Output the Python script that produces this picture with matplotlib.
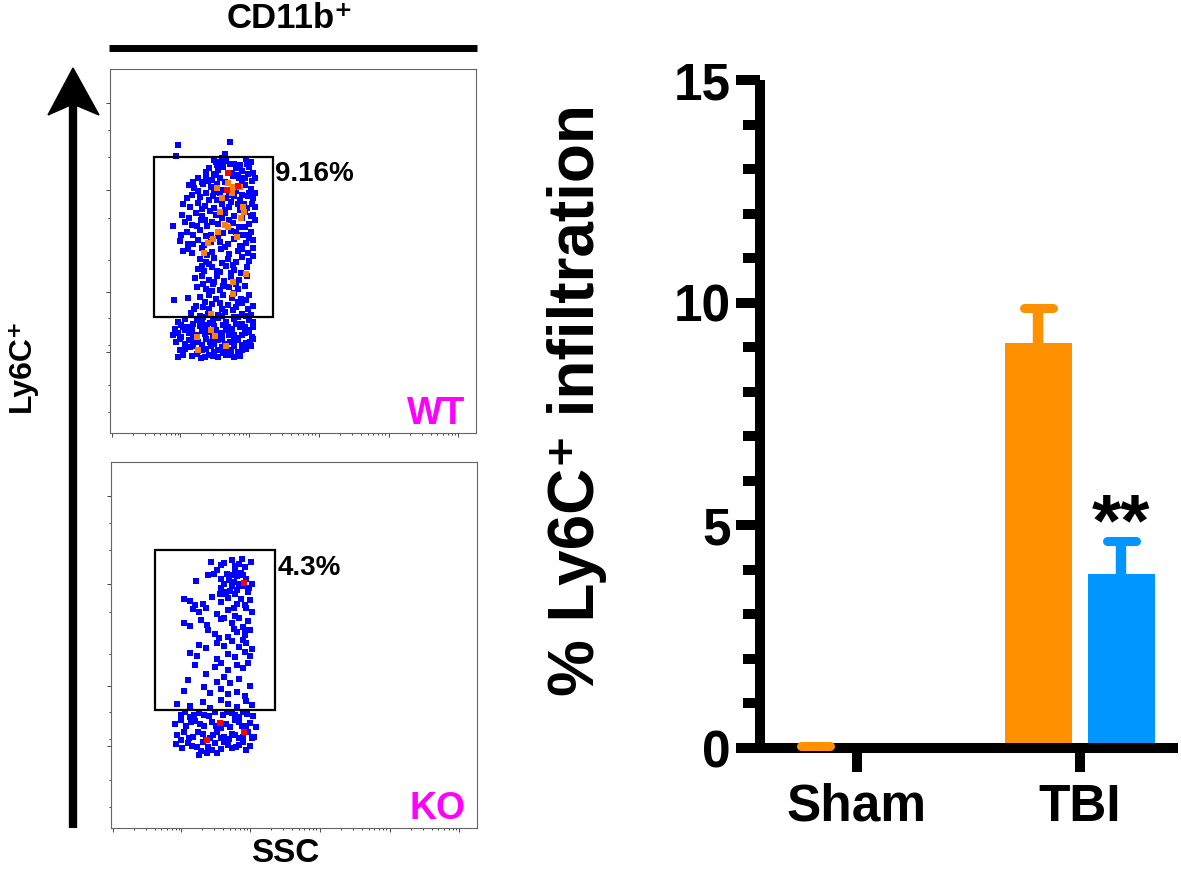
import matplotlib
matplotlib.use("Agg")
import matplotlib.pyplot as plt
import numpy as np
from matplotlib.patches import Rectangle, Polygon
from matplotlib.lines import Line2D

plt.rcParams['font.family'] = ['Liberation Sans', 'DejaVu Sans']
plt.rcParams['font.weight'] = 'bold'

# ---- flow cytometry dots (SSC, Ly6C channel units 0-1000) ----
wt_blue = [
    (186,792),(328,800),(180,762),(314,766),(290,745),
    (283,750),(300,742),(318,748),(340,740),(372,752),(386,744),(305,755),
    (270,728),(295,722),(310,732),(345,728),(362,720),(380,730),(390,715),(285,712),
    (240,700),(262,706),(280,695),(300,700),(335,705),(350,710),(370,700),(388,692),(252,690),
    (215,680),(230,672),(255,684),(275,675),(292,685),(310,668),(345,665),(370,680),(385,670),(395,660),
    (225,655),(245,648),(262,660),(282,650),(300,658),(318,645),(340,650),(355,640),(378,652),(392,645),
    (200,630),(218,620),(240,632),(260,625),(285,618),(305,630),(325,622),(350,628),(375,618),(388,630),
    (196,600),(235,605),(250,595),(272,610),(290,598),(315,604),(340,595),(370,608),(392,598),
    (172,569),(205,580),(225,572),(248,585),(265,570),(280,580),(335,578),(352,566),(380,575),(395,585),
    (210,552),(228,545),(245,558),(262,540),(310,550),(330,556),(360,545),(385,552),
    (190,528),(212,520),(240,530),(258,516),(300,525),(322,518),(340,532),(372,522),(392,530),
    (200,500),(225,495),(250,508),(280,498),(302,505),(325,492),(350,500),(378,495),(390,508),
    (245,478),(262,470),(285,482),(305,468),(322,478),(345,470),(362,483),(380,472),
    (240,450),(258,445),(278,455),(300,442),(318,458),(340,448),(358,440),
    (232,425),(250,432),(270,420),(292,430),(312,418),(330,428),(352,420),(375,432),
    (238,400),(262,395),(282,408),(300,392),(325,402),(350,395),(368,405),
    (175,366),(213,371),(245,375),(270,380),(290,368),(310,378),(332,372),(358,368),(380,380),
    (235,350),(255,345),(280,355),(305,342),(322,352),(345,345),(362,356),(378,340),
    (220,330),(245,322),(268,328),(295,325),(315,332),(338,320),(360,328),(385,325),
    (185,305),(205,312),(228,300),(250,310),(272,302),(296,315),(318,305),(340,312),(362,300),(380,310),(392,305),
    (178,285),(200,292),(225,282),(245,295),(265,288),(290,282),(310,296),(332,285),(355,292),(375,282),(390,290),
    (172,270),(195,265),(215,275),(238,268),(260,272),(282,262),(305,275),(325,268),(348,262),(370,275),(388,265),
    (180,250),(205,245),(228,255),(250,242),(272,250),(295,255),(315,245),(340,252),(360,242),(382,250),
    (192,228),(218,235),(240,225),(262,232),(285,222),(305,235),(330,228),(350,222),(372,232),
    (185,210),(225,212),(248,206),(270,215),(295,208),(318,214),(340,208),
    (292,735),(328,738),(355,735),(375,740),(262,718),(332,715),(352,700),(378,712),(395,700),
    (228,690),(268,692),(290,708),(315,690),(360,690),(380,660),(240,665),(285,662),(325,655),(362,655),
    (210,645),(270,640),(292,640),(330,635),(365,630),(395,620),(250,615),(315,612),(355,612),
    (215,590),(260,585),(305,590),(325,585),(360,590),(385,595),(238,570),(295,575),(368,565),
    (195,545),(275,545),(295,540),(345,552),(372,545),(228,520),(275,525),(355,515),(380,535),
    (212,505),(265,490),(315,510),(362,505),(270,465),(335,462),(390,485),(250,460),(292,445),(330,440),(375,455),
    (285,415),(345,410),(310,405),(255,410),(340,385),(280,390),(260,360),(300,358),(350,360),(372,365),
    (230,340),(270,340),(335,338),(390,350),(255,318),(282,310),(305,322),(350,318),(372,322),
    (195,298),(215,290),(238,310),(262,298),(285,295),(322,290),(345,300),(368,290),
    (185,275),(205,282),(228,270),(250,280),(272,278),(295,268),(318,282),(338,270),(360,268),(380,278),
    (190,258),(215,255),(240,250),(262,258),(285,245),(305,258),(328,250),(350,255),(372,248),(392,258),
    (205,232),(228,238),(252,228),(275,238),(295,228),(318,232),(340,238),(362,228),(385,238),
    (200,215),(238,218),(260,210),(282,212),(308,220),(330,215),(355,212),
]
wt_orange = [
    (292,674),(322,688),(336,677),(355,677),(333,660),(306,646),(363,622),(366,608),
    (300,608),(358,591),(314,572),(322,567),(295,553),(347,539),(281,534),(268,523),
    (257,495),(371,437),(336,415),(336,382),(276,327),(276,283),(287,267),(238,264),
    (317,239),(240,228),
]
wt_red = [(322,715),(319,668),(349,679)]

ko_blue = [
    (272,728),(300,718),(330,732),(350,722),(365,712),(382,726),(290,705),(338,702),
    (265,690),(300,680),(318,695),(335,672),(345,688),(370,680),(385,668),(232,675),(355,698),(322,678),
    (300,655),(315,645),(330,662),(345,650),(360,660),(375,645),(312,640),(340,640),
    (200,625),(215,620),(250,612),(275,630),(300,618),(320,628),(345,612),(380,622),(230,610),
    (225,598),(240,590),(260,602),(290,585),(320,595),(340,580),(370,600),(385,590),
    (200,560),(215,552),(245,568),(262,555),(300,572),(330,560),(360,550),(375,566),
    (265,540),(285,530),(320,522),(345,535),(365,528),(380,542),(360,515),
    (240,500),(260,492),(290,505),(310,498),(330,510),(350,495),(370,505),(385,490),
    (215,478),(235,470),(290,462),(320,475),(340,468),(365,482),(380,470),
    (230,445),(285,440),(300,452),(320,432),(345,445),(360,438),(375,450),
    (210,405),(260,420),(290,398),(310,412),(325,395),(350,408),
    (200,375),(255,385),(270,370),(300,380),(320,365),(345,372),(380,388),(365,360),
    (180,340),(215,332),(250,345),(270,328),(300,350),(320,338),(345,330),(370,348),(385,335),
    (190,310),(215,302),(240,315),(268,305),(285,318),(305,308),(330,315),(350,302),(372,312),(388,305),
    (175,285),(205,278),(230,292),(255,280),(275,290),(300,272),(315,285),(338,295),(358,278),(380,288),(395,275),
    (180,255),(200,262),(225,248),(250,258),(270,245),(290,262),(310,250),(330,258),(350,245),(375,262),(392,250),
    (178,230),(195,218),(222,225),(245,210),(265,222),(285,232),(300,215),(320,228),(342,222),(360,235),(380,225),(262,205),
    (310,725),(340,715),(358,735),(282,695),(328,690),(362,690),(310,668),(350,668),(378,655),(325,648),
    (298,640),(355,625),(365,608),(335,600),(310,575),(350,575),(295,520),(335,545),(365,540),
    (202,318),(228,308),(255,310),(318,318),(340,310),(362,318),(190,295),(218,290),(242,285),
    (288,278),(325,275),(350,290),(370,280),
    (190,240),(212,245),(238,262),(260,240),(280,255),(300,245),(322,242),(340,255),(362,250),(385,245),
    (210,232),(235,220),(252,235),(275,212),(310,235),(330,218),(350,228),(370,212),(240,200),(290,205),
]
ko_orange = []
ko_red = [(363,670),(298,287),(363,262),(262,240)]

wt_gate = (120, 319, 445, 758)
ko_gate = (120, 322, 448, 759)
gate_pct = ['9.16%', '4.3%']
genotypes = ['WT', 'KO']

# ---- bar chart ----
groups = ['Sham', 'TBI']
wt_mean = [0.02, 9.1]
wt_err = [0.03, 0.78]
ko_mean = [0.0, 3.9]
ko_err = [0.0, 0.74]

W, H = 1181, 874
fig = plt.figure(figsize=(W / 100, H / 100), dpi=100)


def fx(px):
    return px / W


def fy(py):
    return 1 - py / H


def flow_panel(left, top, right, bottom, blue, orange, red, gate, pct, name):
    ax = fig.add_axes([fx(left), fy(bottom), fx(right - left), (bottom - top) / H])
    for pts, c in ((blue, '#0000FF'), (orange, '#FF7F00'), (red, '#FF0000')):
        if pts:
            xs, ys = zip(*pts)
            ax.scatter(xs, ys, marker='s', s=20, c=c, linewidths=0, zorder=2)
    x0, y0, x1, y1 = gate
    ax.add_patch(Rectangle((x0, y0), x1 - x0, y1 - y0, fill=False, lw=1.6,
                           ec='black', zorder=3))
    ax.text(x1 + 6, y1 - 12, pct, ha='left', va='top', fontsize=20)
    ax.text(0.97, 0.025, name, transform=ax.transAxes, ha='right',
            va='baseline', color='#FF00FF', fontsize=27)
    ax.set_xlim(0, 1000)
    ax.set_ylim(0, 1000)
    xmaj = [5, 191, 380, 571, 762, 951]
    xmin = [a + np.log10(k) * 190 for a in xmaj[:-1] for k in range(2, 10)]
    ax.set_xticks(xmaj)
    ax.set_xticks(xmin, minor=True)
    ax.set_yticks([223, 388, 668, 907])
    ax.set_yticks([58, 132, 242, 316, 476, 591, 759, 833], minor=True)
    ax.tick_params(which='both', direction='out', labelbottom=False,
                   labelleft=False, color='#444444', width=0.7)
    ax.tick_params(which='major', length=3)
    ax.tick_params(which='minor', length=1.5)
    for s in ax.spines.values():
        s.set_linewidth(0.8)
        s.set_color('#666666')
    return ax


flow_panel(110, 69, 476, 433, wt_blue, wt_orange, wt_red, wt_gate, gate_pct[0], genotypes[0])
flow_panel(111, 462, 477, 828, ko_blue, ko_orange, ko_red, ko_gate, gate_pct[1], genotypes[1])

# labels around flow panels
fig.text(fx(290), fy(18), 'CD11b⁺', ha='center', va='center', fontsize=25)
fig.add_artist(Line2D([fx(109), fx(477)], [fy(48), fy(48)], lw=5, color='black',
                      solid_capstyle='butt'))
fig.text(fx(285), fy(853), 'SSC', ha='center', va='center', fontsize=24)
fig.text(fx(22), fy(365), 'Ly6C⁺', ha='center', va='center', rotation=90, fontsize=23)
fig.add_artist(Line2D([fx(73), fx(73)], [fy(828), fy(100)], lw=6, color='black',
                      solid_capstyle='butt'))
fig.add_artist(Polygon([(fx(73), fy(68)), (fx(48), fy(115)), (fx(73), fy(104)),
                        (fx(99), fy(115))], closed=True, color='black',
                       transform=fig.transFigure))

# ---- bar chart axes ----
ax2 = fig.add_axes([fx(760), fy(748), fx(1178 - 760), (748 - 80) / H])
x = np.arange(len(groups))
off = 0.186
bw = 0.30
orange = '#FF9100'
blue = '#0096FF'
ax2.bar(x - off, wt_mean, bw, color=orange, zorder=2)
ax2.bar(x + off, ko_mean, bw, color=blue, zorder=2)


def err_up(xs, means, errs, color):
    for xi, m, e in zip(xs, means, errs):
        if e <= 0:
            continue
        ax2.vlines(xi, m, m + e, colors=color, lw=7.5, zorder=3, clip_on=False)
        cap = ax2.hlines(m + e, xi - 0.065, xi + 0.065, colors=color, lw=6.5,
                         zorder=3, clip_on=False)
        cap.set_capstyle('round')


err_up(x - off, wt_mean, wt_err, orange)
err_up(x + off, ko_mean, ko_err, blue)
ax2.text(x[1] + off, ko_mean[1] + ko_err[1] - 0.1, '**', ha='center',
         va='baseline', fontsize=54)

ax2.set_xlim(-0.435, 1.44)
ax2.set_ylim(0, 15)
ax2.set_yticks([0, 5, 10, 15])
ax2.set_yticks(np.arange(0, 16, 1), minor=True)
ax2.set_xticks(x)
ax2.set_xticklabels(groups)
for s in ['top', 'right']:
    ax2.spines[s].set_visible(False)
for s in ['left', 'bottom']:
    ax2.spines[s].set_linewidth(7.2)
    ax2.spines[s].set_capstyle('butt')
ax2.tick_params(axis='y', which='major', length=17, width=7.2, labelsize=37, pad=4)
ax2.tick_params(axis='y', which='minor', length=12, width=7.2)
ax2.tick_params(axis='x', which='major', length=17, width=7.2, labelsize=37, pad=8)
fig.text(fx(577), fy(400), '% Ly6C⁺ infiltration', ha='center', va='center',
         rotation=90, fontsize=46)

fig.savefig('out.png', dpi=100)
